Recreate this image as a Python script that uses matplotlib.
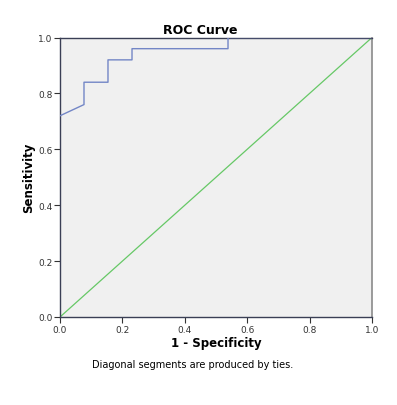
import matplotlib
matplotlib.use("Agg")
import matplotlib.pyplot as plt

# ROC curve points (1 - specificity, sensitivity)
fpr = [0.0, 0.0, 0.0769, 0.0769, 0.1538, 0.1538, 0.2308, 0.2308, 0.5385, 0.5385, 1.0]
tpr = [0.0, 0.72, 0.76, 0.84, 0.84, 0.92, 0.92, 0.96, 0.96, 1.0, 1.0]
ref_x = [0.0, 1.0]
ref_y = [0.0, 1.0]
ticks = [0.0, 0.2, 0.4, 0.6, 0.8, 1.0]
tick_labels = ["0.0", "0.2", "0.4", "0.6", "0.8", "1.0"]

fig = plt.figure(figsize=(3.97, 4.06), dpi=100)
ax = fig.add_axes([60/397, 88/406, 312/397, 279.5/406])
ax.set_facecolor("#f0f0f0")
ax.plot(ref_x, ref_y, color="#66c866", lw=0.9, zorder=2)
ax.plot(fpr[1:], tpr[1:], color="#7386c6", lw=1.0, zorder=3)
ax.set_xlim(0, 1)
ax.set_ylim(0, 1)
ax.set_xticks(ticks)
ax.set_xticklabels(tick_labels)
ax.set_yticks(ticks)
ax.set_yticklabels(tick_labels)
ax.tick_params(direction="out", length=4, width=0.8, labelsize=6.5,
               colors="#333333", pad=1.5)
for s in ["left", "bottom", "top"]:
    ax.spines[s].set_color("#3a3f55")
    ax.spines[s].set_linewidth(1.0)
ax.spines["right"].set_color("#8a8a8a")
ax.spines["right"].set_linewidth(1.2)

ax.set_xlabel("1 - Specificity", fontsize=8.5, fontweight="bold", labelpad=2)
ax.set_ylabel("Sensitivity", fontsize=8.5, fontweight="bold", labelpad=2)
fig.text(200/397, 1 - 30/406, "ROC Curve", ha="center", va="center",
         fontsize=9, fontweight="bold")
fig.text(193/397, 1 - 365/406, "Diagonal segments are produced by ties.",
         ha="center", va="center", fontsize=7)
fig.savefig("out.png", dpi=100)
